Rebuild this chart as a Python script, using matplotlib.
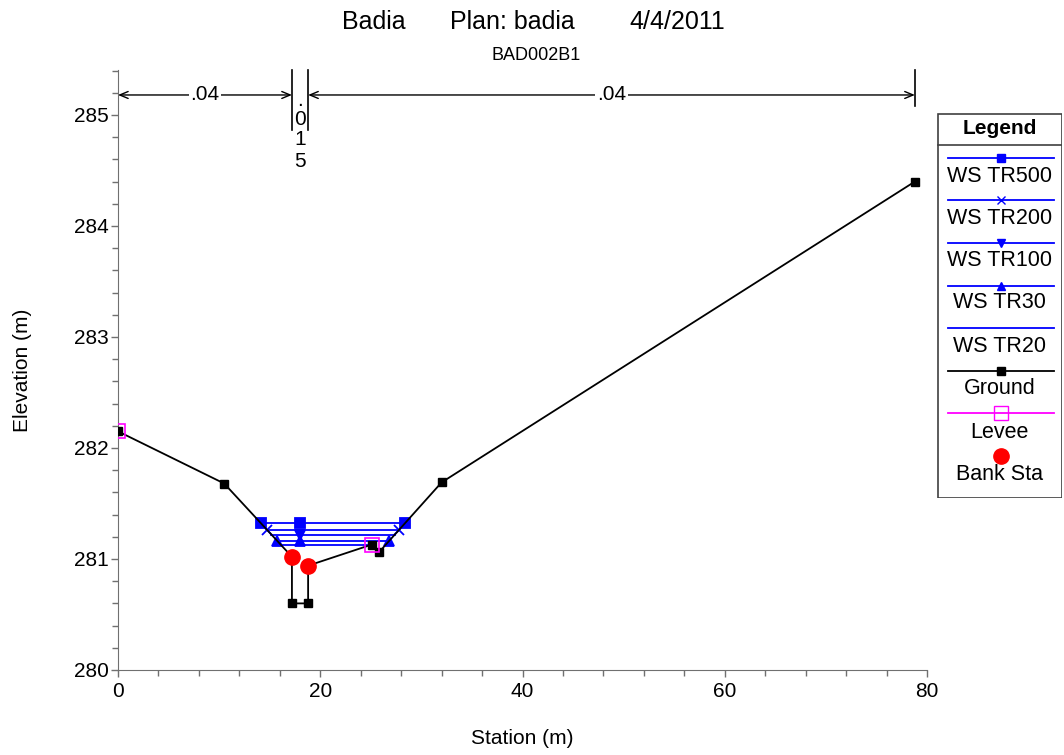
import matplotlib
matplotlib.use("Agg")
import matplotlib.pyplot as plt
from matplotlib.patches import Rectangle

plt.rcParams['font.family'] = ['Liberation Sans', 'DejaVu Sans']

# ---------------- data ----------------
ground_sta = [0.0, 10.5, 17.2, 17.2, 18.8, 18.8, 25.1, 25.8, 32.0, 78.8]
ground_elev = [282.15, 281.68, 281.02, 280.6, 280.6, 280.94, 281.13, 281.06, 281.69, 284.40]

levee_sta = [0.0, 25.1]
levee_elev = [282.15, 281.13]

bank_sta = [17.2, 18.8]
bank_elev = [281.02, 280.94]

ws_names = ['WS TR500', 'WS TR200', 'WS TR100', 'WS TR30', 'WS TR20']
ws_elev = [281.32, 281.26, 281.22, 281.16, 281.13]
ws_left = [14.1, 14.7, 15.1, 15.7, 16.1]
ws_right = [28.4, 27.8, 27.4, 26.8, 25.1]
ws_mid = 18.0
ws_markers = ['s', 'x', 'v', '^', None]
ws_marker_at = [['L', 'M', 'R'], ['L', 'R'], ['M'], ['L', 'M', 'R'], []]

mann_n = ['.04', '.015', '.04']
mann_bounds = [0.0, 17.2, 18.8, 78.8]

x_ticks = [0, 20, 40, 60, 80]
y_ticks = [280, 281, 282, 283, 284, 285]

# ---------------- figure ----------------
W, H = 1064, 755
fig = plt.figure(figsize=(W / 100, H / 100), dpi=100)
ax = fig.add_axes([118 / W, (H - 670) / H, 809 / W, 600 / H])

blue = '#0000ff'
ws_ms = {'s': 6.5, 'x': 7, 'v': 7, '^': 7}

for name, el, l, r, mk, at in zip(ws_names, ws_elev, ws_left, ws_right, ws_markers, ws_marker_at):
    ax.plot([l, r], [el, el], color=blue, lw=1.3, zorder=3)
    if mk:
        pos = {'L': l, 'M': ws_mid, 'R': r}
        xs = [pos[k] for k in at]
        ax.plot(xs, [el] * len(xs), ls='none', marker=mk, color=blue,
                ms=ws_ms[mk], mew=1.3, zorder=4)

ax.plot(ground_sta, ground_elev, color='black', lw=1.3, marker='s', ms=6, zorder=5)
ax.plot(levee_sta, levee_elev, ls='none', marker='s', ms=10, mfc='none',
        mec='#ff00ff', mew=1.2, zorder=6)
ax.plot(bank_sta, bank_elev, ls='none', marker='o', ms=11, color='#ff0000', zorder=7)

ax.set_xlim(0, 80)
ax.set_ylim(280, 285.405)
ax.set_xticks(x_ticks)
ax.set_yticks(y_ticks)
ax.set_xticks([v for v in range(0, 81, 4) if v % 20], minor=True)
ax.set_yticks([280 + i * 0.2 for i in range(0, 28) if i % 5], minor=True)
ax.tick_params(which='both', direction='out', color='#707070', labelsize=15, width=1)
ax.tick_params(which='major', length=5)
ax.tick_params(which='minor', length=4.5)
ax.tick_params(axis='y', which='major', pad=1.5)
for s in ['top', 'right']:
    ax.spines[s].set_visible(False)
for s in ['left', 'bottom']:
    ax.spines[s].set_color('#707070')
ax.set_xlabel('Station (m)', fontsize=15, labelpad=20.5)
ax.set_ylabel('Elevation (m)', fontsize=15, labelpad=30)

# Manning's n annotation
y_arrow = 285.18
y_top = 285.405
for xb in mann_bounds[1:3]:
    ax.plot([xb, xb], [284.86, y_top], color='black', lw=1.2, clip_on=False, zorder=8)
ax.plot([mann_bounds[3]] * 2, [285.08, y_top], color='black', lw=1.2, clip_on=False, zorder=8)
for a, b in [(mann_bounds[0], mann_bounds[1]), (mann_bounds[2], mann_bounds[3])]:
    ax.annotate('', xy=(a, y_arrow), xytext=(b, y_arrow),
                arrowprops=dict(arrowstyle='<->,head_length=0.6,head_width=0.25',
                                color='black', lw=1.0, shrinkA=0, shrinkB=0), zorder=8)
ax.text((mann_bounds[0] + mann_bounds[1]) / 2, y_arrow, mann_n[0], fontsize=15,
        ha='center', va='center', zorder=9,
        bbox=dict(facecolor='white', edgecolor='none', pad=1))
ax.text((mann_bounds[2] + mann_bounds[3]) / 2, y_arrow, mann_n[2], fontsize=15,
        ha='center', va='center', zorder=9,
        bbox=dict(facecolor='white', edgecolor='none', pad=1))
xc = (mann_bounds[1] + mann_bounds[2]) / 2
ch_y = [285.13, 284.96, 284.78, 284.585]
for ch, yy in zip(mann_n[1], ch_y):
    ax.text(xc, yy, ch, fontsize=15, ha='center', va='center', zorder=9)

# titles
fig.text(374 / W, 1 - 22 / H, 'Badia', fontsize=18, ha='center', va='center')
fig.text(512 / W, 1 - 22 / H, 'Plan: badia', fontsize=18, ha='center', va='center')
fig.text(677 / W, 1 - 22 / H, '4/4/2011', fontsize=18, ha='center', va='center')
fig.text(536 / W, 1 - 55 / H, 'BAD002B1', fontsize=13, ha='center', va='center')

# legend (drawn manually in box coordinates, pixels)
lx0, ly0, lw_, lh_ = 937, 113, 125, 385
lax = fig.add_axes([lx0 / W, (H - ly0 - lh_) / H, lw_ / W, lh_ / H])
lax.set_xlim(0, lw_)
lax.set_ylim(lh_, 0)
lax.axis('off')
lax.add_patch(Rectangle((0.5, 0.5), lw_ - 1, lh_ - 1, fill=False, edgecolor='#404040', lw=1.2))
lax.plot([0.5, lw_ - 0.5], [32, 32], color='#404040', lw=1.2)
lax.text(lw_ / 2, 15, 'Legend', fontsize=15, fontweight='bold', ha='center', va='center')

leg_entries = [
    ('WS TR500', blue, 's', blue, blue, 6),
    ('WS TR200', blue, 'x', blue, blue, 6),
    ('WS TR100', blue, 'v', blue, blue, 6),
    ('WS TR30', blue, '^', blue, blue, 6),
    ('WS TR20', blue, None, blue, blue, 0),
    ('Ground', 'black', 's', 'black', 'black', 6),
    ('Levee', '#ff00ff', 's', 'none', '#ff00ff', 10),
    ('Bank Sta', None, 'o', '#ff0000', '#ff0000', 11),
]
line_y = [45, 87, 130, 173, 215, 258, 300, 343]
text_y = [64, 105, 148, 190, 234, 276, 319, 362]
for (lab, lc, mk, mfc, mec, ms), yl, yt in zip(leg_entries, line_y, text_y):
    if lc:
        lax.plot([11, 117], [yl, yl], color=lc, lw=1.3)
    if mk:
        lax.plot([64], [yl], ls='none', marker=mk, ms=ms, mfc=mfc, mec=mec, mew=1.0)
    lax.text(lw_ / 2, yt, lab, fontsize=15.5, ha='center', va='center')

fig.savefig('out.png', dpi=100)
